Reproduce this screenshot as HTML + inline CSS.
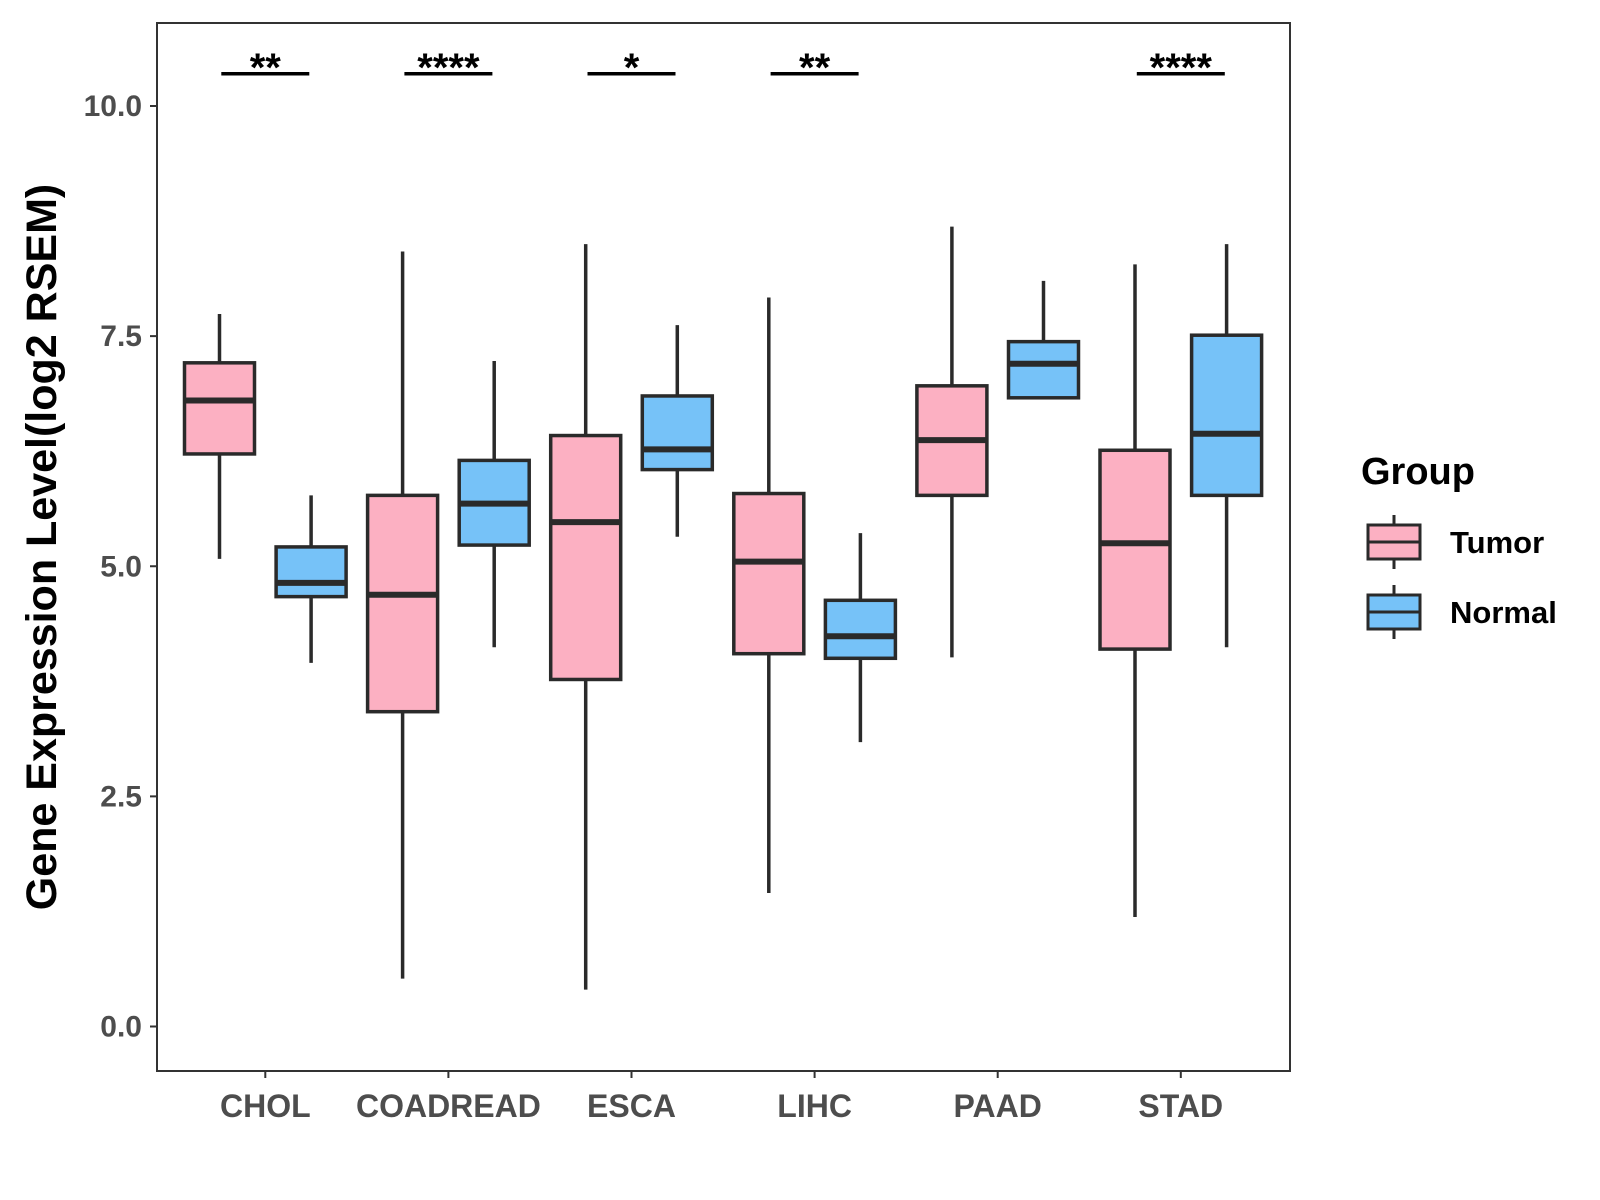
<!DOCTYPE html>
<html><head><meta charset="utf-8"><style>body{margin:0;background:#fff}svg{display:block}text{font-family:"Liberation Sans",Arial,sans-serif;font-weight:bold}</style></head>
<body>
<svg id="chart" width="1600" height="1200" xmlns="http://www.w3.org/2000/svg"></svg>
<script>
const categories=["CHOL","COADREAD","ESCA","LIHC","PAAD","STAD"];
const tumorStats=[[5.08,6.22,6.80,7.21,7.74],[0.52,3.42,4.69,5.77,8.42],[0.40,3.77,5.48,6.42,8.50],[1.45,4.05,5.05,5.79,7.92],[4.01,5.77,6.37,6.96,8.69],[1.19,4.10,5.25,6.26,8.28]];
const normalStats=[[3.95,4.67,4.82,5.21,5.77],[4.12,5.23,5.68,6.15,7.23],[5.32,6.05,6.27,6.85,7.62],[3.09,4.00,4.24,4.63,5.36],[6.83,6.83,7.20,7.44,8.10],[4.12,5.77,6.44,7.51,8.50]];
const sigLabels=["**","****","*","**","","****"];
const yTicks=[0,2.5,5,7.5,10];
const yTickLabels=["0.0","2.5","5.0","7.5","10.0"];
const sigLevel=10.35;
const svg=document.getElementById('chart');
const NS="http://www.w3.org/2000/svg";
const L=157,R=1290,T=23,B=1071;
const y=v=>1026.5-v*92.05;
const x=i=>265.3+i*183.1;
function el(t,a,txt){const e=document.createElementNS(NS,t);for(const k in a)e.setAttribute(k,a[k]);if(txt!==undefined)e.textContent=txt;svg.appendChild(e);return e;}
const panel=el('rect',{x:L,y:T,width:R-L,height:B-T,fill:'#fff',stroke:'#333','stroke-width':2});


yTicks.forEach((v,i)=>{
 const tk=el('line',{x1:L-7,x2:L,y1:y(v),y2:y(v),stroke:'#333','stroke-width':2});
 
 
 const lb=el('text',{x:L-15,y:y(v)+10,'text-anchor':'end','font-size':30,fill:'#4d4d4d'},yTickLabels[i]);
 
 
});
const cols={t:'#FCB0C2',n:'#76C2F8'};
const hw=35;
function box(cx,s,fill,name){
 const w=el('line',{x1:cx,x2:cx,y1:y(s[0]),y2:y(s[4]),stroke:'#2a2a2a','stroke-width':3.5});
 
 
 const r=el('rect',{x:cx-hw,y:y(s[3]),width:2*hw,height:y(s[1])-y(s[3]),fill:fill,stroke:'#2a2a2a','stroke-width':3.5});
 
 
 const m=el('line',{x1:cx-hw,x2:cx+hw,y1:y(s[2]),y2:y(s[2]),stroke:'#2a2a2a','stroke-width':6});
 
 
}
categories.forEach((c,i)=>{
 box(x(i)-45.8,tumorStats[i],cols.t,'tumor-'+c.toLowerCase());
 box(x(i)+45.8,normalStats[i],cols.n,'normal-'+c.toLowerCase());
 const tk=el('line',{x1:x(i),x2:x(i),y1:B,y2:B+7,stroke:'#333','stroke-width':2});
 
 
 const lb=el('text',{x:x(i),y:1117,'text-anchor':'middle','font-size':32,fill:'#4d4d4d'},c);
 
 
 if(sigLabels[i]){
  const sb=el('line',{x1:x(i)-44,x2:x(i)+44,y1:y(sigLevel),y2:y(sigLevel),stroke:'#000','stroke-width':3.5});
  
  
  const st=el('text',{x:x(i),y:y(sigLevel)+7,'text-anchor':'middle','font-size':40,fill:'#000'},sigLabels[i]);
  
  
 }
});
const yt=el('text',{x:0,y:0,transform:'translate(56,547) rotate(-90)','text-anchor':'middle','font-size':43,fill:'#000'},'Gene Expression Level(log2 RSEM)');


const lt=el('text',{x:1361,y:484,'font-size':38,fill:'#000'},'Group');


[['Tumor',cols.t,542],['Normal',cols.n,612]].forEach(([n,c,cy])=>{
 const g=document.createElementNS(NS,'g');svg.appendChild(g);
 
 
 g.innerHTML=`<line x1="1394" x2="1394" y1="${cy-27}" y2="${cy+27}" stroke="#2a2a2a" stroke-width="3"/><rect x="1368" y="${cy-17}" width="52" height="34" fill="${c}" stroke="#2a2a2a" stroke-width="3"/><line x1="1368" x2="1420" y1="${cy}" y2="${cy}" stroke="#2a2a2a" stroke-width="3"/><text x="1450" y="${cy+11}" font-size="31" fill="#000">${n}</text>`;
});
</script>
</body></html>
